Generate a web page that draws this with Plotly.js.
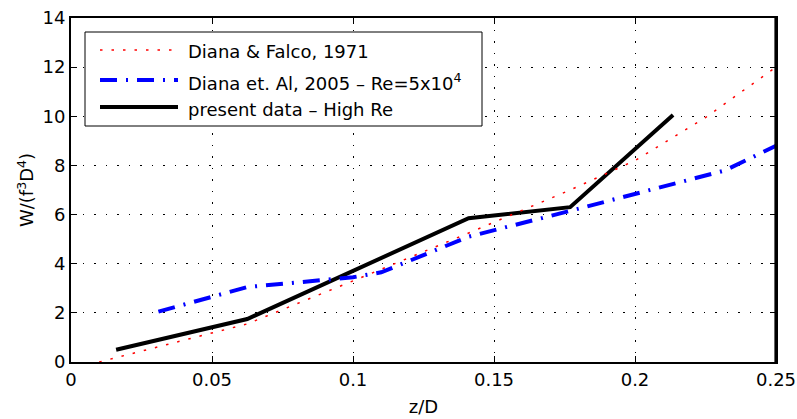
<!DOCTYPE html>
<html>
<head>
<meta charset="utf-8">
<script src="https://cdn.plot.ly/plotly-3.0.1.min.js"></script>
<style>html,body{margin:0;padding:0;background:#fff;overflow:hidden;}#chart{width:797px;height:419px;}</style>
</head>
<body>
<div id="chart"></div>
<script>
// Data
const redName = "Diana &amp; Falco, 1971";
const redX = [0.01, 0.0625, 0.1, 0.14, 0.177, 0.2, 0.225, 0.25];
const redY = [0, 1.55, 3.3, 5.2, 7.0, 8.2, 9.95, 12.0];

const blueName = "Diana et. Al, 2005 \u2013 Re=5x10<sup>4</sup>";
const blueX = [0.031, 0.0625, 0.1, 0.11, 0.141, 0.177, 0.232, 0.25];
const blueY = [2.05, 3.05, 3.45, 3.65, 5.1, 6.15, 7.8, 8.8];

const blackName = "present data \u2013 High Re";
const blackX = [0.016, 0.0625, 0.141, 0.177, 0.2135];
const blackY = [0.5, 1.75, 5.85, 6.3, 10.05];

const xTicks = [0, 0.05, 0.1, 0.15, 0.2, 0.25];
const xTickText = ["0", "0.05", "0.1", "0.15", "0.2", "0.25"];
const yTicks = [0, 2, 4, 6, 8, 10, 12, 14];

const FONT = "DejaVu Sans, Liberation Sans, Arial, sans-serif";

const seriesStyles = [
  {color: "#ff0000", width: 1.5, dash: "2.5px,9px"},
  {color: "#0000ff", width: 4, dash: "17px,9px,2px,9px"},
  {color: "#000000", width: 4}
];
const series = [
  {name: redName, x: redX, y: redY},
  {name: blueName, x: blueX, y: blueY},
  {name: blackName, x: blackX, y: blackY}
];

// draw black first, then red, then blue (blue sits on top as in the reference)
const drawOrder = [2, 0, 1];
const traces = drawOrder.map(i => ({
  x: series[i].x, y: series[i].y, name: series[i].name, mode: "lines",
  line: Object.assign({}, seriesStyles[i]), showlegend: false
}));

const axisCommon = {
  showline: true, linecolor: "#000", linewidth: 2, mirror: "ticks",
  ticks: "inside", ticklen: 6, tickcolor: "#000", tickwidth: 1,
  showgrid: true, gridcolor: "#000", gridwidth: 1, griddash: "1.5px,10px",
  zeroline: false, tickfont: {family: FONT, size: 18, color: "#000"}
};

// Legend box drawn by hand (pixel layout converted to paper fractions)
const L = 71, R = 776, T = 18, B = 362;
const px = v => (v - L) / (R - L);
const py = v => (B - v) / (B - T);
const rowY = [50, 80, 107];
const textY = [52, 82, 109];

const shapes = [
  {type: "line", xref: "paper", yref: "paper", x0: 0.9995, x1: 0.9995, y0: 0, y1: 1,
   line: {color: "#000", width: 2.5}, layer: "above"},
  {type: "rect", xref: "paper", yref: "paper", x0: px(85), x1: px(482), y0: py(126), y1: py(32),
   line: {color: "#000", width: 1}, fillcolor: "#fff"}
];
const annotations = [];
series.forEach((s, k) => {
  shapes.push({type: "line", xref: "paper", yref: "paper",
    x0: px(100), x1: px(178), y0: py(rowY[k]), y1: py(rowY[k]),
    line: Object.assign({}, seriesStyles[k])});
  annotations.push({xref: "paper", yref: "paper", x: px(186), y: py(textY[k]),
    xanchor: "left", yanchor: "middle", showarrow: false, text: s.name,
    font: {family: FONT, size: 18, color: "#000"}});
});

const layout = {
  width: 797, height: 419,
  margin: {l: L, r: 797 - R, t: T, b: 419 - B, autoexpand: false},
  paper_bgcolor: "#fff", plot_bgcolor: "#fff",
  font: {family: FONT, size: 18, color: "#000"},
  showlegend: false,
  xaxis: Object.assign({}, axisCommon, {
    range: [0, 0.25], tickvals: xTicks, ticktext: xTickText,
    tickmode: "array", automargin: false,
    title: {text: "z/D", font: {family: FONT, size: 18}, standoff: 12}
  }),
  yaxis: Object.assign({}, axisCommon, {
    range: [0, 14], tickvals: yTicks, tickmode: "array", automargin: false,
    title: {text: "W/(f<sup>3</sup>D<sup>4</sup>)", font: {family: FONT, size: 18}, standoff: 4}
  }),
  shapes: shapes,
  annotations: annotations
};

Plotly.newPlot("chart", traces, layout, {staticPlot: true});
</script>
</body>
</html>
